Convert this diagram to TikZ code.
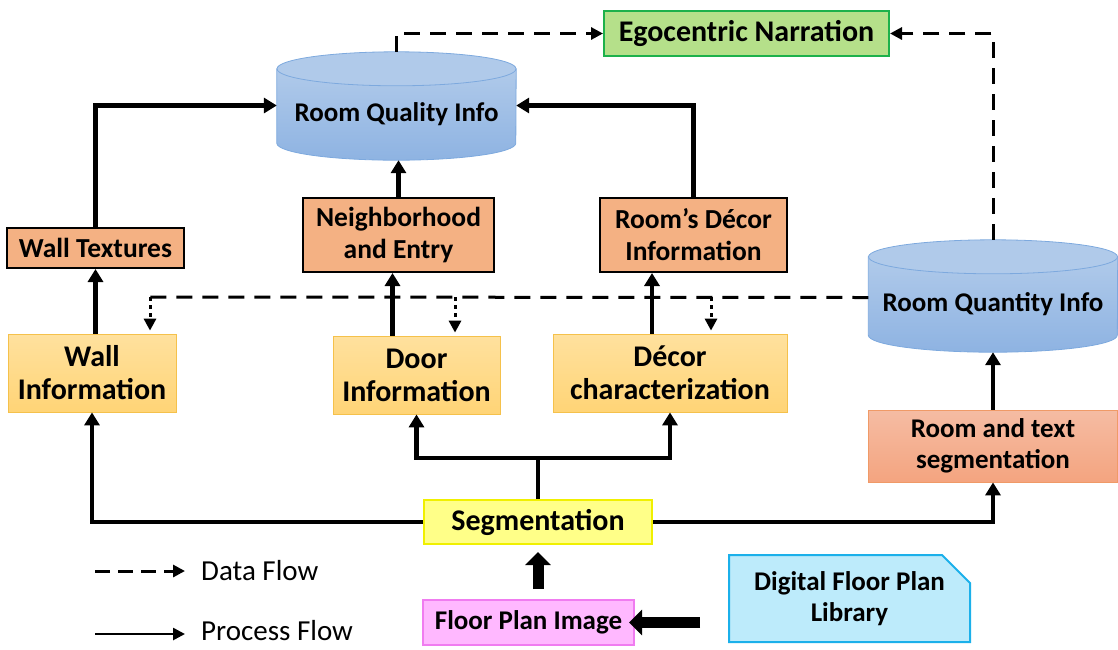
\documentclass[tikz,border=0pt]{standalone}
\usepackage{fontspec}
\setmainfont{Carlito}
\usetikzlibrary{arrows.meta,shapes.misc,backgrounds}

\definecolor{egofill}{RGB}{181,224,138}
\definecolor{egoline}{RGB}{29,177,75}
\definecolor{outfill}{RGB}{244,177,131}
\definecolor{infotop}{RGB}{255,225,158}
\definecolor{infobot}{RGB}{255,212,118}
\definecolor{infoline}{RGB}{245,193,75}
\definecolor{rtstop}{RGB}{245,188,163}
\definecolor{rtsbot}{RGB}{244,164,127}
\definecolor{rtsline}{RGB}{240,154,103}
\definecolor{segfill}{RGB}{255,255,136}
\definecolor{segline}{RGB}{240,240,0}
\definecolor{fpifill}{RGB}{255,184,255}
\definecolor{fpiline}{RGB}{240,124,240}
\definecolor{libfill}{RGB}{189,235,251}
\definecolor{libline}{RGB}{27,176,234}
\definecolor{cyltop}{RGB}{176,202,234}
\definecolor{cylbot}{RGB}{142,179,226}
\definecolor{cylline}{RGB}{125,169,222}

\tikzset{
  lbl/.style={font=\bfseries\fontsize{27}{31}\selectfont, align=center, inner sep=0pt},
  outbox/.style={lbl, font=\bfseries\fontsize{27.5}{32}\selectfont, draw=black, line width=2pt, fill=outfill},
  infobox/.style={lbl, font=\bfseries\fontsize{30}{33}\selectfont, draw=infoline, line width=0.8pt, top color=infotop, bottom color=infobot},
  proc/.style={line width=4.5pt, -{Triangle[length=13pt,width=15pt]}},
  data/.style={line width=3pt, dash pattern=on 16pt off 10pt, -{Triangle[length=12pt,width=12pt]}},
  dataline/.style={line width=3pt, dash pattern=on 16pt off 10pt},
  dropto/.style={line width=3pt, dash pattern=on 4pt off 4pt, -{Triangle[length=12pt,width=12pt]}, shorten >=3pt},
  block/.style={line width=11pt, -{Triangle[length=13pt,width=25pt]}},
  cylbody/.style={draw=cylline, line width=0.8pt, top color=cyltop, bottom color=cylbot},
  legtext/.style={font=\fontsize{29}{31}\selectfont, anchor=west, inner sep=0pt},
}

\begin{document}
\begin{tikzpicture}[x=1pt,y=-1pt]
\useasboundingbox (0,0) rectangle (1118,649);

% Boxes
\node (ego) [lbl, font=\bfseries\fontsize{30}{32}\selectfont, draw=egoline, line width=2pt, fill=egofill, minimum width=285, minimum height=45] at (746.5,33.5) {Egocentric Narration};
\node (rqual) [lbl, minimum width=239, minimum height=91] at (396.5,114.5) {Room Quality Info};
\node (walltex) [outbox, minimum width=177, minimum height=40] at (95.5,248) {Wall Textures};
\node (neigh) [outbox, minimum width=191, minimum height=74] at (398.5,235) {Neighborhood\\and Entry};
\node (decinfo) [outbox, minimum width=187, minimum height=74] at (693.5,235) {Room’s Décor\\Information};
\node (rquant) [lbl, minimum width=249, minimum height=95] at (993,304.5) {Room Quantity Info};
\node (wallinfo) [infobox, minimum width=168, minimum height=78] at (92,373) {Wall\\Information};
\node (doorinfo) [infobox, minimum width=167, minimum height=78] at (416.5,375) {Door\\Information};
\node (decchar) [infobox, minimum width=234, minimum height=78] at (670,373) {Décor\\characterization};
\node (rts) [lbl, draw=rtsline, line width=0.8pt, top color=rtstop, bottom color=rtsbot, minimum width=249, minimum height=72] at (993,446) {Room and text\\segmentation};
\node (seg) [lbl, font=\bfseries\fontsize{30}{32}\selectfont, draw=segline, line width=2pt, fill=segfill, minimum width=228, minimum height=44] at (538,522) {Segmentation};
\node (fpi) [lbl, draw=fpiline, line width=2pt, fill=fpifill, minimum width=211, minimum height=45] at (528.5,622.5) {Floor Plan Image};
\node (lib) [lbl, chamfered rectangle, chamfered rectangle corners=north east, chamfered rectangle xsep=14pt, chamfered rectangle ysep=14pt, draw=libline, line width=2pt, fill=libfill, minimum width=241, minimum height=87] at (849.5,598.5) {Digital Floor Plan\\Library};

% Cylinders
\begin{scope}[on background layer]
\path[cylbody] (rqual.north west) -- ([yshift=17pt]rqual.south west) arc[start angle=180, end angle=360, x radius=119.5pt, y radius=17pt] -- (rqual.north east) -- cycle;
\draw[cylline, line width=0.8pt, fill=cyltop] (rqual.north) ellipse [x radius=119.5pt, y radius=17pt];
\path[cylbody] (rquant.north west) -- ([yshift=17pt]rquant.south west) arc[start angle=180, end angle=360, x radius=124.5pt, y radius=17pt] -- (rquant.north east) -- cycle;
\draw[cylline, line width=0.8pt, fill=cyltop] (rquant.north) ellipse [x radius=124.5pt, y radius=17pt];
\end{scope}

% Process flow
\coordinate (split) at (538,458);
\draw[proc] (seg.west) -| (wallinfo.south);
\draw[proc] (seg.north) -- (split) -| (doorinfo.south);
\draw[proc] (split) -| (decchar.south);
\draw[proc] (seg.east) -| (rts.south);
\draw[proc] (rts.north) -- (rquant.south);
\draw[proc] (walltex.south |- wallinfo.north) -- (walltex.south);
\draw[proc] (walltex.north) |- ([yshift=9pt]rqual.west);
\draw[proc] ([xshift=-24pt]doorinfo.north) -- ([xshift=-24pt]doorinfo.north |- neigh.south);
\draw[proc] (neigh.north) -- (neigh.north |- rqual.south);
\draw[proc] ([xshift=-18pt]decchar.north) -- ([xshift=-18pt]decchar.north |- decinfo.south);
\draw[proc] (decinfo.north) |- ([yshift=9pt]rqual.east);

% Data flow
\coordinate (dwall) at (150,297);
\coordinate (ddoor) at (455,297);
\coordinate (ddec) at (711,297);
\draw[dataline] ([yshift=7pt]rquant.west) -- (dwall);
\draw[dropto] (dwall) -- (dwall |- wallinfo.north);
\draw[dropto] (ddoor) -- (ddoor |- doorinfo.north);
\draw[dropto] (ddec) -- (ddec |- decchar.north);
\draw[data] ([yshift=17pt]rqual.north) |- (ego.west);
\draw[data] ([yshift=17pt]rquant.north) |- (ego.east);

% Block arrows
\draw[block] ([yshift=10pt]fpi.north -| seg.south) -- ([yshift=-7pt]seg.south);
\draw[block] ([xshift=-28pt]lib.west |- fpi.east) -- ([xshift=-6pt]fpi.east);

% Legend
\coordinate (dl1) at (95,571);
\coordinate (dl2) at (185,571);
\coordinate (pl1) at (95,634);
\coordinate (pl2) at (185,634);
\draw[data, dash pattern=on 15pt off 8pt] (dl1) -- (dl2);
\draw[line width=2.6pt, -{Triangle[length=12pt,width=12pt]}] (pl1) -- (pl2);
\node (dtext) [legtext] at (201,571) {Data Flow};
\node (ptext) [legtext] at (201,631) {Process Flow};
\end{tikzpicture}
\end{document}
